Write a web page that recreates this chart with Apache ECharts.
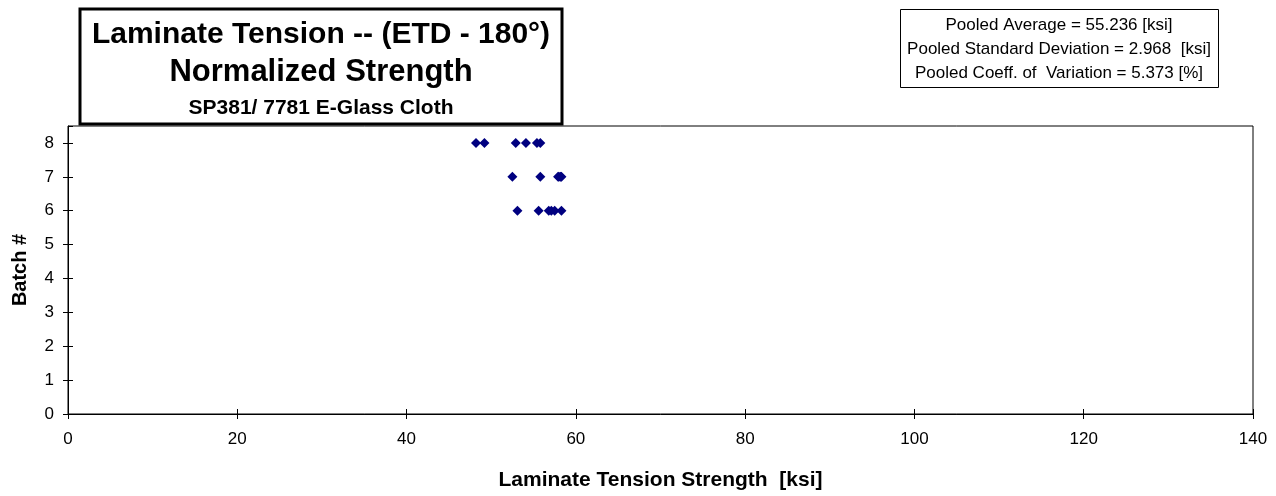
<!DOCTYPE html>
<html>
<head>
<meta charset="utf-8">
<script src="https://cdn.jsdelivr.net/npm/echarts@6/dist/echarts.min.js"></script>
<style>html,body{margin:0;padding:0;background:#fff}#c{width:1276px;height:496px}</style>
</head>
<body>
<div id="c"></div>
<script>
const batch8 = [48.2, 49.2, 52.9, 54.1, 55.4, 55.8];
const batch7 = [52.5, 55.8, 57.9, 58.0, 58.2, 58.3];
const batch6 = [53.1, 55.6, 56.8, 57.1, 57.5, 58.3];
const xTicks = [0, 20, 40, 60, 80, 100, 120, 140];
const yTicks = [0, 1, 2, 3, 4, 5, 6, 7, 8];
const titleLines = ['Laminate Tension -- (ETD - 180°)', 'Normalized Strength', 'SP381/ 7781 E-Glass Cloth'];
const statsLines = ['Pooled Average = 55.236 [ksi]', 'Pooled Standard Deviation = 2.968  [ksi]', 'Pooled Coeff. of  Variation = 5.373 [%]'];

const pts = [];
batch8.forEach(v => pts.push([v, 8]));
batch7.forEach(v => pts.push([v, 7]));
batch6.forEach(v => pts.push([v, 6]));

const F = 'Liberation Sans, Arial, sans-serif';
const tickStyle = {color: '#000', width: 1};
const chart = echarts.init(document.getElementById('c'));
chart.setOption({
  animation: false,
  backgroundColor: '#fff',
  grid: {left: 68, right: 23, top: 126, bottom: 81, show: true, borderColor: '#000', borderWidth: 1, backgroundColor: 'transparent'},
  xAxis: [{
    type: 'value', min: xTicks[0], max: xTicks[xTicks.length - 1], interval: 20,
    name: 'Laminate Tension Strength  [ksi]', nameLocation: 'middle', nameGap: 56,
    nameTextStyle: {fontFamily: F, fontSize: 21, fontWeight: 'bold', color: '#000'},
    axisLine: {show: true, lineStyle: {color: '#000', width: 1}},
    axisTick: {show: true, length: 5, lineStyle: tickStyle},
    axisLabel: {fontFamily: F, fontSize: 17, color: '#000', margin: 17},
    splitLine: {show: false}
  }, {
    type: 'value', position: 'bottom', min: xTicks[0], max: xTicks[xTicks.length - 1], interval: 20,
    axisLine: {show: false}, axisLabel: {show: false}, splitLine: {show: false},
    axisTick: {show: true, inside: true, length: 5, lineStyle: tickStyle}
  }],
  yAxis: [{
    type: 'value', min: 0, max: 8.5, interval: 1,
    name: 'Batch #', nameLocation: 'middle', nameGap: 38, nameRotate: 90,
    nameTextStyle: {fontFamily: F, fontSize: 20, fontWeight: 'bold', color: '#000'},
    axisLine: {show: true, lineStyle: {color: '#000', width: 1}},
    axisTick: {show: true, length: 5, lineStyle: tickStyle},
    axisLabel: {fontFamily: F, fontSize: 17, color: '#000', margin: 14, showMaxLabel: false,
      formatter: v => (yTicks.indexOf(v) >= 0 ? String(v) : '')},
    splitLine: {show: false}
  }, {
    type: 'value', position: 'left', min: 0, max: 8.5, interval: 1,
    axisLine: {show: false}, axisLabel: {show: false}, splitLine: {show: false},
    axisTick: {show: true, inside: true, length: 5, lineStyle: tickStyle}
  }],
  series: [{
    type: 'scatter', data: pts, symbol: 'diamond', symbolSize: 10,
    itemStyle: {color: '#000080', opacity: 1}
  }],
  graphic: [
    {type: 'rect', z: 100, shape: {x: 80, y: 9, width: 482, height: 115}, style: {fill: '#fff', stroke: '#000', lineWidth: 3}},
    {type: 'text', z: 101, x: 321, y: 35, style: {text: titleLines[0], font: 'bold 30px ' + F, fill: '#000', textAlign: 'center', textVerticalAlign: 'middle'}},
    {type: 'text', z: 101, x: 321, y: 72, style: {text: titleLines[1], font: 'bold 31px ' + F, fill: '#000', textAlign: 'center', textVerticalAlign: 'middle'}},
    {type: 'text', z: 101, x: 321, y: 108, style: {text: titleLines[2], font: 'bold 21px ' + F, fill: '#000', textAlign: 'center', textVerticalAlign: 'middle'}},
    {type: 'rect', z: 100, shape: {x: 900.5, y: 9.5, width: 318, height: 78}, style: {fill: '#fff', stroke: '#000', lineWidth: 1}},
    {type: 'text', z: 101, x: 1059, y: 25, style: {text: statsLines[0], font: '17px ' + F, fill: '#000', textAlign: 'center', textVerticalAlign: 'middle'}},
    {type: 'text', z: 101, x: 1059, y: 49, style: {text: statsLines[1], font: '17px ' + F, fill: '#000', textAlign: 'center', textVerticalAlign: 'middle'}},
    {type: 'text', z: 101, x: 1059, y: 73, style: {text: statsLines[2], font: '17px ' + F, fill: '#000', textAlign: 'center', textVerticalAlign: 'middle'}}
  ]
});
</script>
</body>
</html>
